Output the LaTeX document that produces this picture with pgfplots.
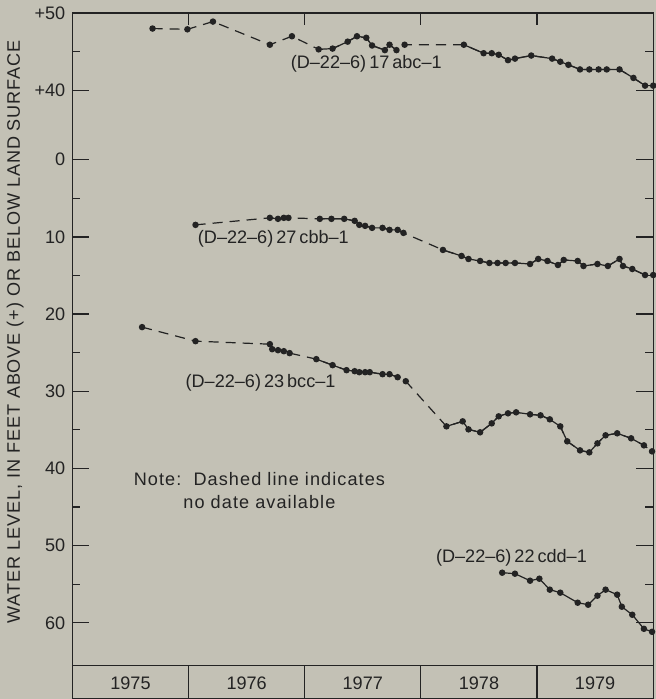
\documentclass[border=0pt]{standalone}
\usepackage{fontspec}
\setmainfont{Liberation Sans}
\newfontfamily\ylabfont[LetterSpace=5]{Liberation Sans}
\newfontfamily\notefont[LetterSpace=6]{Liberation Sans}
\usepackage{pgfplots}
\usepackage{pgfplotstable}
\pgfplotsset{compat=1.18}
\usetikzlibrary{backgrounds}

\definecolor{bgc}{RGB}{195,193,181}
\definecolor{ink}{RGB}{35,35,35}

% 17abc-1 is in feet above land surface; the others in feet below
\pgfplotstableread{
year v
1975.69 48.0
1975.99 47.9
1976.21 48.9
1976.70 45.9
1976.89 47.0
1977.12 45.3
1977.24 45.4
1977.37 46.3
1977.45 47.0
1977.53 46.8
1977.58 45.8
1977.69 45.2
1977.73 45.9
1977.79 45.2
1977.86 45.9
1978.37 45.9
1978.54 44.8
1978.61 44.8
1978.67 44.6
1978.75 43.9
1978.81 44.1
1978.95 44.5
1979.13 44.1
1979.20 43.7
1979.27 43.3
1979.37 42.7
1979.45 42.7
1979.53 42.7
1979.60 42.7
1979.71 42.7
1979.83 41.6
1979.93 40.6
1980.00 40.6
}\wellA

\pgfplotstableread{
year d
1976.06 8.44
1976.70 7.53
1976.77 7.66
1976.82 7.53
1976.86 7.53
1977.13 7.66
1977.23 7.66
1977.34 7.66
1977.43 7.92
1977.47 8.44
1977.52 8.57
1977.58 8.83
1977.67 8.83
1977.73 9.09
1977.80 9.09
1977.85 9.48
1978.19 11.69
1978.35 12.47
1978.41 12.86
1978.51 13.12
1978.59 13.38
1978.66 13.38
1978.73 13.38
1978.81 13.38
1978.94 13.51
1979.01 12.86
1979.09 13.12
1979.18 13.64
1979.23 12.99
1979.35 13.12
1979.40 13.77
1979.52 13.51
1979.61 13.77
1979.71 12.86
1979.74 13.77
1979.82 14.16
1979.93 14.94
1980.00 14.94
}\wellB

\pgfplotstableread{
year d
1975.60 21.69
1976.06 23.51
1976.70 23.90
1976.72 24.55
1976.77 24.68
1976.82 24.81
1976.87 25.06
1977.10 25.84
1977.24 26.62
1977.36 27.27
1977.43 27.40
1977.47 27.53
1977.52 27.53
1977.56 27.53
1977.67 27.79
1977.73 27.79
1977.80 28.18
1977.87 28.70
1978.22 34.55
1978.36 33.90
1978.41 34.94
1978.51 35.32
1978.61 34.16
1978.67 33.25
1978.75 32.86
1978.82 32.73
1978.94 32.99
1979.03 33.12
1979.11 33.64
1979.20 34.55
1979.26 36.49
1979.37 37.66
1979.45 37.92
1979.52 36.75
1979.59 35.71
1979.69 35.45
1979.81 36.10
1979.92 37.01
1979.99 37.79
}\wellC

\pgfplotstableread{
year d
1978.70 53.51
1978.81 53.64
1978.94 54.55
1979.02 54.29
1979.11 55.71
1979.20 56.10
1979.35 57.40
1979.44 57.66
1979.52 56.49
1979.59 55.71
1979.69 56.36
1979.73 57.92
1979.82 58.96
1979.92 60.78
1979.99 61.17
}\wellD

\pgfplotsset{
  gap/.style={draw=ink, line width=0.6pt, dash pattern=on 5pt off 3.5pt,
    mark=*, mark size=1.3pt, mark options={solid, fill=ink, draw=ink}},
  % solid run over rows #1..#2 of a table
  run/.style 2 args={draw=ink, line width=0.6pt, no marks,
    skip coords between index={0}{#1},
    skip coords between index={#2+1}{1000}},
}

\begin{document}
\begin{tikzpicture}[show background rectangle, inner frame sep=0pt,
  background rectangle/.style={fill=bgc, draw=none}]
\begin{axis}[
  scale only axis, width=289pt, height=341pt,
  xmin=1975, xmax=1980, ymin=-19, ymax=69.8, y dir=reverse,
  clip mode=individual,
  axis line style={draw=ink, line width=0.6pt},
  xtick=\empty,
  ytick={-19,-9,0,10,20,30,40,50,60},
  yticklabels={+50,+40,0,10,20,30,40,50,60},
  minor ytick={-14,5,15,25,35,45,55},
  tick align=inside,
  major tick length=8.5pt, minor tick length=4pt,
  every tick/.style={draw=ink, line width=0.6pt},
  yticklabel style={font=\fontsize{9}{10}\selectfont, text=ink},
]
% dashed lines join readings with no data between; solid runs drawn over them
% 17abc-1 sits on the broken upper scale (+50 at -19, +40 at -9)
\addplot[gap] table[x=year, y expr=31-\thisrow{v}] {\wellA};
\addplot[run={5}{14}] table[x=year, y expr=31-\thisrow{v}] {\wellA};
\addplot[run={15}{32}] table[x=year, y expr=31-\thisrow{v}] {\wellA};

\addplot[gap] table[x=year, y=d] {\wellB};
\addplot[run={1}{4}] table[x=year, y=d] {\wellB};
\addplot[run={5}{15}] table[x=year, y=d] {\wellB};
\addplot[run={16}{37}] table[x=year, y=d] {\wellB};

\addplot[gap] table[x=year, y=d] {\wellC};
\addplot[run={2}{6}] table[x=year, y=d] {\wellC};
\addplot[run={7}{17}] table[x=year, y=d] {\wellC};
\addplot[run={18}{38}] table[x=year, y=d] {\wellC};

\addplot[draw=ink, line width=0.6pt, mark=*, mark size=1.3pt,
  mark options={fill=ink, draw=ink}] table[x=year, y=d] {\wellD};

% year band along the bottom
\draw[ink, line width=0.6pt] (axis cs:1975,65.5) -- (axis cs:1980,65.5);
\pgfplotsinvokeforeach{1976,1977,1978,1979}{
  \draw[ink, line width=0.6pt] (axis cs:#1,65.5) -- (axis cs:#1,69.8);
  \draw[ink, line width=0.6pt] (axis cs:#1,-19) -- (axis cs:#1,-17.4);
}
\pgfplotsinvokeforeach{1975,1976,1977,1978,1979}{
  \node[font=\fontsize{9}{10}\selectfont, text=ink] at (axis cs:#1.5,67.8) {#1};
}

\node[font=\fontsize{9}{10}\selectfont, text=ink] at (axis cs:1977.53,-12.47) {(D--22--6)\,17\,abc--1};
\node[font=\fontsize{9}{10}\selectfont, text=ink] at (axis cs:1976.73,10.26) {(D--22--6)\,27\,cbb--1};
\node[font=\fontsize{9}{10}\selectfont, text=ink] at (axis cs:1976.62,28.96) {(D--22--6)\,23\,bcc--1};
\node[font=\fontsize{9}{10}\selectfont, text=ink] at (axis cs:1978.78,51.56) {(D--22--6)\,22\,cdd--1};

\node[align=center, text=ink, font=\notefont\fontsize{9}{11.5}\selectfont]
  at (axis cs:1976.61,42.86) {Note:\ \ Dashed line indicates\\no date available};

\node[rotate=90, anchor=center, text=ink, font=\ylabfont\fontsize{9}{10}\selectfont]
  at (rel axis cs:-0.0986,0.535)
  {WATER LEVEL, IN FEET ABOVE (+) OR BELOW LAND SURFACE};
\end{axis}
\end{tikzpicture}
\end{document}
